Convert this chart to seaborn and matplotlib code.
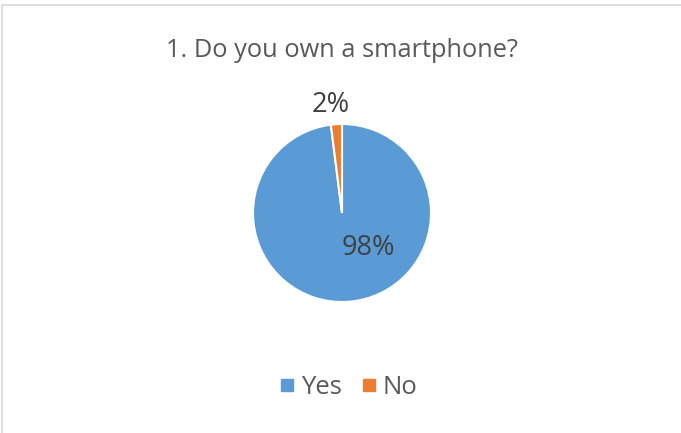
import matplotlib
matplotlib.use("Agg")
import matplotlib.pyplot as plt
from matplotlib.lines import Line2D
import seaborn as sns

# Survey answers
title = "1. Do you own a smartphone?"
answers = ["Yes", "No"]
shares = [98, 2]
colors = ["#5B9BD5", "#ED7D31"]

sns.set_theme(style="white")
plt.rcParams["font.family"] = ["Open Sans", "DejaVu Sans"]

W, H = 681, 433
fig = plt.figure(figsize=(W / 100, H / 100), dpi=100)
fig.patch.set_facecolor("white")

# pie axes: centre (342, 213) px, radius 89 px
cx, cy, r = 342, 213, 89
ax = fig.add_axes([(cx - r) / W, (H - cy - r) / H, 2 * r / W, 2 * r / H])
wedges, _ = ax.pie(
    shares,
    colors=colors,
    startangle=90,
    counterclock=False,
    radius=1,
    wedgeprops=dict(edgecolor="white", linewidth=1.5),
)
ax.set_xlim(-1, 1)
ax.set_ylim(-1, 1)
ax.set_aspect("equal")
ax.axis("off")

# data labels: (x, baseline) in pixels
label_pos = [(368, 255), (331, 111.5)]
for val, (lx, ly) in zip(shares, label_pos):
    fig.text(lx / W, 1 - ly / H, f"{val}%", ha="center", va="baseline",
             fontsize=19.5, color="#404040")

fig.text(cx / W, 1 - 57 / H, title, ha="center", va="baseline",
         fontsize=18.3, color="#595959")

handles = [Line2D([], [], marker="s", linestyle="none", markersize=8,
                  markerfacecolor=c, markeredgecolor=c) for c in colors]
fig.legend(handles, answers, loc="center", bbox_to_anchor=(349 / W, 1 - 387 / H),
           ncol=2, frameon=False, fontsize=18.5, handlelength=0.5,
           handletextpad=0.3, columnspacing=0.8, labelcolor="#595959",
           borderpad=0, borderaxespad=0)

# chart area border (top and left edges)
fig.add_artist(Line2D([1.5 / W, 1], [1 - 4.5 / H, 1 - 4.5 / H],
                      color="#D9D9D9", linewidth=1.2, transform=fig.transFigure))
fig.add_artist(Line2D([1.5 / W, 1.5 / W], [0, 1 - 4.5 / H],
                      color="#D9D9D9", linewidth=1.2, transform=fig.transFigure))

fig.savefig("out.png", dpi=100)
